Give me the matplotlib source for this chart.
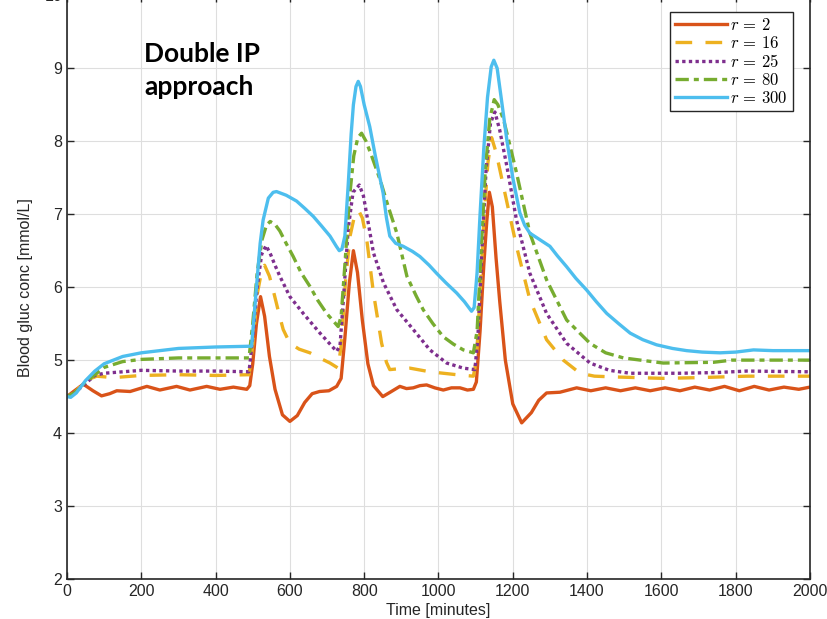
import matplotlib
matplotlib.use("Agg")
import matplotlib.pyplot as plt

plt.rcParams["font.family"] = ["Liberation Sans", "DejaVu Sans"]
plt.rcParams["mathtext.fontset"] = "cm"

# r = 2
t_r2 = [0, 15, 44, 70, 93, 115, 134, 170, 215, 250, 295, 331, 376, 412, 448, 484,
        492, 500, 510, 521, 532, 545, 560, 580, 600, 620, 640, 660, 680, 705, 726,
        738, 748, 760, 771, 782, 795, 810, 825, 850, 870, 896, 914, 932, 950, 968,
        990, 1013, 1035, 1058, 1078, 1094, 1102, 1112, 1122, 1130, 1137, 1145, 1155,
        1165, 1180, 1200, 1224, 1250, 1270, 1291, 1327, 1372, 1410, 1450, 1490, 1530,
        1570, 1610, 1650, 1690, 1730, 1770, 1810, 1850, 1890, 1930, 1970, 2000]
g_r2 = [4.50, 4.56, 4.67, 4.58, 4.51, 4.54, 4.58, 4.57, 4.64, 4.59, 4.64, 4.59, 4.64, 4.60, 4.63, 4.60,
        4.65, 4.95, 5.50, 5.87, 5.60, 5.05, 4.60, 4.25, 4.16, 4.24, 4.42, 4.54, 4.57, 4.58, 4.64,
        4.75, 5.30, 6.05, 6.50, 6.20, 5.55, 4.95, 4.65, 4.50, 4.56, 4.64, 4.61, 4.62, 4.65, 4.66,
        4.62, 4.59, 4.62, 4.62, 4.59, 4.60, 4.70, 5.40, 6.30, 6.90, 7.30, 7.10, 6.40,
        5.80, 5.00, 4.40, 4.14, 4.28, 4.45, 4.55, 4.56, 4.62, 4.58, 4.62, 4.58, 4.62,
        4.58, 4.62, 4.58, 4.63, 4.59, 4.64, 4.58, 4.64, 4.59, 4.63, 4.60, 4.63]

# r = 16
t_r16 = [0, 20, 50, 80, 125, 200, 300, 400, 490, 500, 512, 525, 532, 545, 555, 570, 582,
         600, 625, 654, 680, 708, 730, 738, 750, 762, 775, 785, 795, 807, 825, 847, 860,
         869, 890, 923, 977, 1049, 1094, 1102, 1112, 1122, 1133, 1143, 1155, 1175, 1210,
         1246, 1291, 1336, 1381, 1420, 1471, 1605, 1700, 1830, 2000]
g_r16 = [4.50, 4.55, 4.72, 4.78, 4.76, 4.79, 4.80, 4.79, 4.80, 5.20, 5.90, 6.25, 6.30, 6.15, 5.96, 5.65, 5.42,
         5.23, 5.15, 5.10, 5.03, 4.96, 4.89, 5.20, 6.10, 6.70, 7.00, 7.05, 6.95, 6.65, 5.92, 5.23, 4.97,
         4.87, 4.88, 4.89, 4.84, 4.80, 4.78, 5.00, 5.90, 6.90, 7.70, 8.05, 7.85, 7.38, 6.56,
         5.83, 5.28, 5.00, 4.82, 4.78, 4.77, 4.75, 4.76, 4.78, 4.78]

# r = 25
t_r25 = [0, 20, 50, 75, 100, 150, 200, 300, 400, 490, 500, 512, 524, 536, 548, 560, 573,
         600, 636, 681, 726, 735, 745, 757, 770, 787, 798, 812, 825, 852, 888, 932, 977,
         1022, 1067, 1098, 1106, 1116, 1128, 1140, 1152, 1165, 1184, 1210, 1246, 1291,
         1345, 1408, 1460, 1516, 1650, 1750, 1830, 2000]
g_r25 = [4.50, 4.55, 4.68, 4.79, 4.82, 4.84, 4.86, 4.85, 4.85, 4.84, 5.30, 6.00, 6.45, 6.57, 6.45, 6.30, 6.15,
         5.87, 5.64, 5.37, 5.12, 5.20, 5.90, 6.80, 7.30, 7.40, 7.25, 6.85, 6.47, 6.06, 5.69, 5.42, 5.14,
         4.96, 4.89, 4.87, 5.30, 6.40, 7.60, 8.25, 8.40, 8.15, 7.66, 6.92, 6.19, 5.64,
         5.23, 4.96, 4.86, 4.82, 4.82, 4.83, 4.85, 4.84]

# r = 80
t_r80 = [0, 20, 50, 100, 150, 200, 300, 400, 490, 500, 512, 525, 537, 547, 560, 573, 590,
         609, 630, 654, 675, 699, 730, 738, 748, 760, 772, 783, 793, 805, 820, 843, 865,
         888, 915, 940, 959, 985, 1013, 1040, 1067, 1094, 1104, 1114, 1126, 1138, 1150,
         1160, 1175, 1192, 1210, 1246, 1291, 1345, 1408, 1450, 1498, 1605, 1740, 1790,
         1848, 2000]
g_r80 = [4.50, 4.55, 4.70, 4.90, 4.98, 5.01, 5.03, 5.03, 5.03, 5.50, 6.20, 6.65, 6.85, 6.90, 6.86, 6.77, 6.60,
         6.42, 6.20, 6.01, 5.82, 5.64, 5.46, 5.60, 6.30, 7.20, 7.80, 8.05, 8.11, 8.00, 7.80, 7.47, 7.10,
         6.74, 6.15, 5.88, 5.69, 5.50, 5.32, 5.22, 5.14, 5.10, 5.40, 6.40, 7.60, 8.30, 8.57,
         8.50, 8.30, 7.95, 7.57, 6.74, 6.10, 5.55, 5.23, 5.10, 5.03, 4.96, 4.97, 5.00,
         5.00, 5.00]

# r = 300
t_r300 = [0, 10, 25, 50, 75, 100, 150, 200, 300, 400, 490, 497, 510, 520, 528, 542, 555,
          564, 590, 618, 640, 663, 685, 708, 725, 733, 740, 748, 757, 765, 771, 778, 784,
          790, 800, 815, 830, 851, 860, 869, 885, 905, 930, 950, 975, 995, 1020, 1049,
          1070, 1089, 1096, 1104, 1112, 1122, 1132, 1142, 1149, 1158, 1170, 1184, 1200,
          1219, 1232, 1246, 1270, 1300, 1320, 1345, 1370, 1399, 1425, 1453, 1485, 1516,
          1550, 1587, 1630, 1668, 1710, 1758, 1800, 1848, 1900, 2000]
g_r300 = [4.50, 4.49, 4.55, 4.72, 4.85, 4.95, 5.05, 5.10, 5.16, 5.18, 5.19, 5.19, 6.00, 6.60, 6.92, 7.22, 7.30,
          7.31, 7.26, 7.18, 7.08, 6.97, 6.84, 6.70, 6.56, 6.50, 6.52, 6.70, 7.40, 8.10, 8.50, 8.75, 8.82,
          8.75, 8.50, 8.20, 7.80, 7.29, 6.95, 6.70, 6.60, 6.56, 6.49, 6.42, 6.30, 6.19, 6.06, 5.92,
          5.80, 5.67, 5.72, 6.20, 7.00, 7.90, 8.60, 9.02, 9.11, 9.00, 8.55, 8.02, 7.50,
          7.02, 6.85, 6.74, 6.66, 6.56, 6.43, 6.28, 6.12, 5.96, 5.80, 5.64, 5.50, 5.37,
          5.28, 5.21, 5.16, 5.13, 5.11, 5.10, 5.11, 5.14, 5.13, 5.13]

fig = plt.figure(figsize=(8.28, 6.19), dpi=100)
ax = fig.add_axes([0.0809, 0.0646, 0.8973, 0.943])

lw = 2.4
ax.plot(t_r2, g_r2, color="#D95319", lw=lw, ls="-", label=r"$r\,=\,2$")
ax.plot(t_r16, g_r16, color="#EDB120", lw=lw, ls=(0, (5, 4)), label=r"$r\,=\,16$")
ax.plot(t_r25, g_r25, color="#7E2F8E", lw=lw, ls=(0, (1, 1)), label=r"$r\,=\,25$")
ax.plot(t_r80, g_r80, color="#77AC30", lw=lw, ls=(0, (4, 1.5, 1.5, 1.5)), label=r"$r\,=\,80$")
ax.plot(t_r300, g_r300, color="#4DBEEE", lw=lw, ls="-", label=r"$r\,=\,300$")

ax.set_xlim(0, 2000)
ax.set_ylim(2, 10)
ax.set_xticks(range(0, 2001, 200))
ax.set_yticks(range(2, 11))
ax.grid(True, color="#dedede", lw=0.8)
ax.set_axisbelow(True)
ax.tick_params(direction="in", top=True, right=True, length=5, width=1,
               labelsize=11.5, colors="#262626")
for s in ax.spines.values():
    s.set_color("#262626")
    s.set_linewidth(1.2)

ax.set_xlabel("Time [minutes]", fontsize=11.5, color="#262626", labelpad=3)
ax.set_ylabel("Blood gluc conc [mmol/L]", fontsize=11.5, color="#262626", labelpad=8)

ax.text(0.1036, 0.9195, "Double IP\napproach", transform=ax.transAxes,
        fontsize=19, fontweight="bold", family=["Lato", "DejaVu Sans"],
        va="top", ha="left", linespacing=1.45)

leg = ax.legend(loc="upper right", bbox_to_anchor=(0.977, 0.971), borderaxespad=0,
                fontsize=12, fancybox=False, edgecolor="#262626", framealpha=1,
                handlelength=3.1, labelspacing=0.12, handletextpad=0.2,
                borderpad=0.3)
leg.get_frame().set_linewidth(1.0)

fig.savefig("out.png", dpi=100)
